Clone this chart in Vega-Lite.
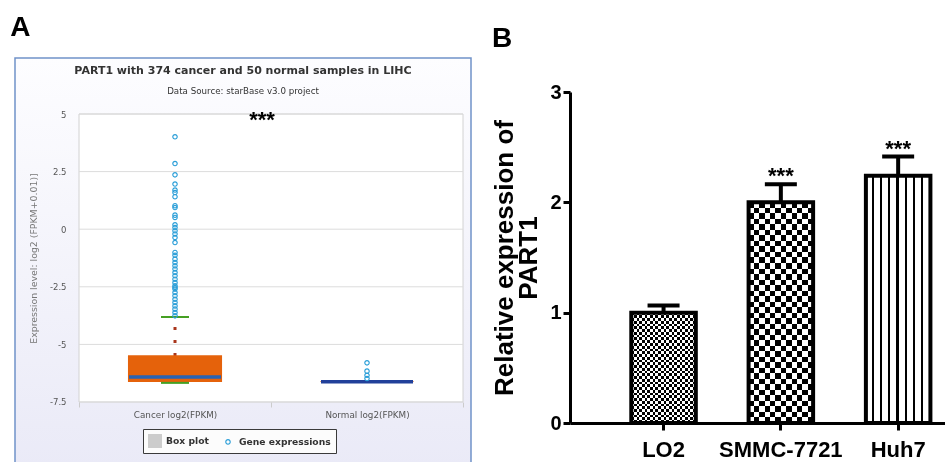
{
  "$schema": "https://vega.github.io/schema/vega-lite/v6.json",
  "background": "white",
  "padding": {"left": 10, "top": 14, "right": 0, "bottom": 0},
  "spacing": 19,
  "config": {"view": {"stroke": null}},
  "datasets": {
    "boxes": [
      {"group": "Cancer log2(FPKM)", "q1": -6.63, "q3": -5.47, "median": -6.41, "lower": -6.67, "upper": -3.81},
      {"group": "Normal log2(FPKM)", "q1": -6.63, "q3": -6.61, "median": -6.62, "lower": -6.62, "upper": -6.62}
    ],
    "outliers": [
      {"group": "Cancer log2(FPKM)", "value": 4.01},
      {"group": "Cancer log2(FPKM)", "value": 2.85},
      {"group": "Cancer log2(FPKM)", "value": 2.36},
      {"group": "Cancer log2(FPKM)", "value": 1.96},
      {"group": "Cancer log2(FPKM)", "value": 1.70},
      {"group": "Cancer log2(FPKM)", "value": 1.59},
      {"group": "Cancer log2(FPKM)", "value": 1.41},
      {"group": "Cancer log2(FPKM)", "value": 1.02},
      {"group": "Cancer log2(FPKM)", "value": 0.94},
      {"group": "Cancer log2(FPKM)", "value": 0.61},
      {"group": "Cancer log2(FPKM)", "value": 0.51},
      {"group": "Cancer log2(FPKM)", "value": 0.19},
      {"group": "Cancer log2(FPKM)", "value": 0.07},
      {"group": "Cancer log2(FPKM)", "value": -0.07},
      {"group": "Cancer log2(FPKM)", "value": -0.21},
      {"group": "Cancer log2(FPKM)", "value": -0.36},
      {"group": "Cancer log2(FPKM)", "value": -0.58},
      {"group": "Cancer log2(FPKM)", "value": -1.01},
      {"group": "Cancer log2(FPKM)", "value": -1.13},
      {"group": "Cancer log2(FPKM)", "value": -1.30},
      {"group": "Cancer log2(FPKM)", "value": -1.45},
      {"group": "Cancer log2(FPKM)", "value": -1.59},
      {"group": "Cancer log2(FPKM)", "value": -1.73},
      {"group": "Cancer log2(FPKM)", "value": -1.88},
      {"group": "Cancer log2(FPKM)", "value": -2.02},
      {"group": "Cancer log2(FPKM)", "value": -2.17},
      {"group": "Cancer log2(FPKM)", "value": -2.32},
      {"group": "Cancer log2(FPKM)", "value": -2.46},
      {"group": "Cancer log2(FPKM)", "value": -2.53},
      {"group": "Cancer log2(FPKM)", "value": -2.60},
      {"group": "Cancer log2(FPKM)", "value": -2.75},
      {"group": "Cancer log2(FPKM)", "value": -2.89},
      {"group": "Cancer log2(FPKM)", "value": -3.04},
      {"group": "Cancer log2(FPKM)", "value": -3.18},
      {"group": "Cancer log2(FPKM)", "value": -3.33},
      {"group": "Cancer log2(FPKM)", "value": -3.47},
      {"group": "Cancer log2(FPKM)", "value": -3.62},
      {"group": "Cancer log2(FPKM)", "value": -3.76},
      {"group": "Normal log2(FPKM)", "value": -5.80},
      {"group": "Normal log2(FPKM)", "value": -6.16},
      {"group": "Normal log2(FPKM)", "value": -6.34},
      {"group": "Normal log2(FPKM)", "value": -6.48}
    ],
    "grid": [{"v": 5}, {"v": 2.5}, {"v": 0}, {"v": -2.5}, {"v": -5}, {"v": -7.5}],
    "bars": [
      {"cell": "LO2", "mean": 1.0, "upper": 1.065, "sig": ""},
      {"cell": "SMMC-7721", "mean": 2.0, "upper": 2.165, "sig": "***"},
      {"cell": "Huh7", "mean": 2.24, "upper": 2.415, "sig": "***"}
    ]
  },
  "hconcat": [
    {
      "title": {"text": "A", "anchor": "start", "font": "Liberation Sans", "fontSize": 28, "fontWeight": "bold", "color": "black", "dx": -4, "offset": 15},
      "vconcat": [
        {
          "width": 456,
          "height": 410,
          "view": {
            "stroke": "#7092c9",
            "strokeWidth": 1.5,
            "fill": {"gradient": "linear", "x1": 0, "y1": 0, "x2": 0, "y2": 1, "stops": [{"offset": 0, "color": "#fdfdff"}, {"offset": 1, "color": "#eaeaf7"}]}
          },
          "title": {
            "text": "PART1 with 374 cancer and 50 normal samples in LIHC",
            "subtitle": "Data Source: starBase v3.0 project",
            "font": "DejaVu Sans", "fontSize": 11, "fontWeight": "bold", "color": "#333333",
            "subtitleFont": "DejaVu Sans", "subtitleFontSize": 8.7, "subtitleColor": "#333333", "subtitlePadding": 11,
            "anchor": "middle", "frame": "group", "offset": -38
          },
          "layer": [
            {
              "data": {"values": [{}]},
              "mark": {"type": "rect", "fill": "white", "stroke": "#d2d2d2", "strokeWidth": 1},
              "encoding": {
                "x": {
                  "datum": "Cancer log2(FPKM)", "bandPosition": 0,
                  "scale": {"type": "band", "domain": ["Cancer log2(FPKM)", "Normal log2(FPKM)"], "paddingInner": 0, "paddingOuter": 0.1875, "align": 0.889},
                  "axis": {"title": null, "labelFont": "DejaVu Sans", "labelFontSize": 8.8, "labelColor": "#555555", "labelAngle": 0, "domain": false, "ticks": true, "tickBand": "extent", "tickColor": "#cccccc", "tickSize": 5, "labelPadding": 3, "offset": -66, "grid": false}
                },
                "x2": {"datum": "Normal log2(FPKM)", "bandPosition": 1},
                "y": {
                  "datum": 5,
                  "type": "quantitative",
                  "scale": {"domain": [-10.3646, 7.4306], "nice": false, "zero": false},
                  "axis": {
                    "title": "Expression level: log2 (FPKM+0.01)]",
                    "values": [5, 2.5, 0, -2.5, -5, -7.5],
                    "labelExpr": "datum.value < 0 ? '-' + format(-datum.value, '~g') : format(datum.value, '~g')",
                    "domain": false, "ticks": false, "grid": false,
                    "labelFont": "DejaVu Sans", "labelFontSize": 8.5, "labelColor": "#555555", "labelPadding": 13,
                    "offset": -64,
                    "titleFont": "DejaVu Sans", "titleFontSize": 9.4, "titleFontWeight": "normal", "titleColor": "#777777",
                    "titleX": -41, "titleY": 200
                  }
                },
                "y2": {"datum": -7.5}
              }
            },
            {
              "data": {"name": "grid"},
              "mark": {"type": "rule", "color": "#dcdcdc", "strokeWidth": 1},
              "encoding": {
                "x": {"datum": "Cancer log2(FPKM)", "bandPosition": 0},
                "x2": {"datum": "Normal log2(FPKM)", "bandPosition": 1},
                "y": {"field": "v", "type": "quantitative"}
              }
            },
            {
              "data": {"name": "boxes"},
              "mark": {"type": "rule", "color": "#a9361c", "strokeWidth": 3, "strokeDash": [3, 10], "strokeDashOffset": 3},
              "encoding": {
                "x": {"field": "group", "type": "nominal"},
                "y": {"field": "upper", "type": "quantitative"},
                "y2": {"field": "lower"}
              }
            },
            {
              "data": {"name": "boxes"},
              "mark": {"type": "bar", "fill": "#e5620b", "width": {"band": 0.49}},
              "encoding": {
                "x": {"field": "group", "type": "nominal"},
                "y": {"field": "q3", "type": "quantitative"},
                "y2": {"field": "q1"}
              }
            },
            {
              "data": {"name": "boxes"},
              "mark": {"type": "tick", "color": "#45a023", "size": 28, "thickness": 2, "opacity": 1},
              "encoding": {
                "x": {"field": "group", "type": "nominal"},
                "y": {"field": "upper", "type": "quantitative"}
              }
            },
            {
              "data": {"name": "boxes"},
              "mark": {"type": "tick", "color": "#45a023", "size": 28, "thickness": 2, "opacity": 1},
              "encoding": {
                "x": {"field": "group", "type": "nominal"},
                "y": {"field": "lower", "type": "quantitative"}
              }
            },
            {
              "data": {"name": "boxes"},
              "mark": {"type": "tick", "size": 92, "thickness": 3.5, "opacity": 1},
              "encoding": {
                "x": {"field": "group", "type": "nominal"},
                "y": {"field": "median", "type": "quantitative"},
                "color": {"condition": {"test": "datum.group === 'Normal log2(FPKM)'", "value": "#22409a"}, "value": "#2a63b3"}
              }
            },
            {
              "data": {"name": "outliers"},
              "mark": {"type": "point", "filled": true, "strokeWidth": 0, "size": 196, "opacity": 1},
              "encoding": {
                "x": {"field": "group", "type": "nominal"},
                "y": {"field": "value", "type": "quantitative"},
                "color": {
                  "datum": "Gene expressions",
                  "scale": {"domain": ["Box plot", "Gene expressions"], "range": ["#cccccc", "#2c9fd8"]},
                  "legend": {
                    "title": null, "orient": "none", "legendX": 128, "legendY": 371, "direction": "horizontal",
                    "padding": 5, "labelFont": "DejaVu Sans", "labelFontSize": 9.2, "labelFontWeight": "bold", "labelColor": "#333333",
                    "labelOffset": 4, "columnPadding": 12, "symbolSize": 196, "symbolStrokeWidth": 0,
                    "strokeColor": "#3a3a3a", "fillColor": "#fcfcfc",
                    "encode": {"legend": {"strokeWidth": {"value": 2}}}
                  }
                },
                "shape": {
                  "datum": "Gene expressions",
                  "scale": {"domain": ["Box plot", "Gene expressions"], "range": ["square", "M0.4,0A0.4,0.4,0,1,1,-0.4,0A0.4,0.4,0,1,1,0.4,0ZM0.23,0A0.23,0.23,0,1,0,-0.23,0A0.23,0.23,0,1,0,0.23,0Z"]},
                  "legend": {
                    "title": null, "orient": "none", "legendX": 128, "legendY": 371, "direction": "horizontal",
                    "padding": 5, "labelFont": "DejaVu Sans", "labelFontSize": 9.2, "labelFontWeight": "bold", "labelColor": "#333333",
                    "labelOffset": 4, "columnPadding": 12, "symbolSize": 196, "symbolStrokeWidth": 0,
                    "strokeColor": "#3a3a3a", "fillColor": "#fcfcfc",
                    "encode": {"legend": {"strokeWidth": {"value": 2}}}
                  }
                }
              }
            },
            {
              "data": {"values": [{}]},
              "mark": {"type": "text", "text": "***", "font": "Liberation Sans", "fontSize": 22, "fontWeight": "bold", "color": "black", "baseline": "alphabetic", "align": "center"},
              "encoding": {
                "x": {"datum": "Cancer log2(FPKM)", "bandPosition": 0.953},
                "y": {"datum": 4.45, "type": "quantitative"}
              }
            }
          ]
        }
      ]
    },
    {
      "width": 377,
      "height": 365,
      "title": {"text": "B", "anchor": "start", "font": "Liberation Sans", "fontSize": 28, "fontWeight": "bold", "color": "black", "offset": 5},
      "data": {"name": "bars"},
      "encoding": {
        "x": {
          "field": "cell", "type": "nominal", "sort": ["LO2", "SMMC-7721", "Huh7"],
          "scale": {"type": "band", "paddingInner": 0.45, "paddingOuter": 0.332, "align": 0.787},
          "axis": {"title": null, "labelAngle": 0, "labelFont": "Liberation Sans", "labelFontSize": 22, "labelFontWeight": "bold", "labelColor": "black", "labelPadding": 9, "domainColor": "black", "domainWidth": 3, "tickColor": "black", "tickWidth": 3, "tickSize": 7, "grid": false}
        }
      },
      "layer": [
        {
          "transform": [{"filter": "datum.cell === 'LO2'"}],
          "mark": {"type": "bar", "fill": {"gradient": "linear", "x1": 0, "y1": 0, "x2": 1, "y2": 0, "stops": [
            {"offset": 0, "color": "#000"}, {"offset": 0.0417, "color": "#000"}, {"offset": 0.0417, "color": "#fff"}, {"offset": 0.0833, "color": "#fff"},
            {"offset": 0.0833, "color": "#000"}, {"offset": 0.125, "color": "#000"}, {"offset": 0.125, "color": "#fff"}, {"offset": 0.1667, "color": "#fff"},
            {"offset": 0.1667, "color": "#000"}, {"offset": 0.2083, "color": "#000"}, {"offset": 0.2083, "color": "#fff"}, {"offset": 0.25, "color": "#fff"},
            {"offset": 0.25, "color": "#000"}, {"offset": 0.2917, "color": "#000"}, {"offset": 0.2917, "color": "#fff"}, {"offset": 0.3333, "color": "#fff"},
            {"offset": 0.3333, "color": "#000"}, {"offset": 0.375, "color": "#000"}, {"offset": 0.375, "color": "#fff"}, {"offset": 0.4167, "color": "#fff"},
            {"offset": 0.4167, "color": "#000"}, {"offset": 0.4583, "color": "#000"}, {"offset": 0.4583, "color": "#fff"}, {"offset": 0.5, "color": "#fff"},
            {"offset": 0.5, "color": "#000"}, {"offset": 0.5417, "color": "#000"}, {"offset": 0.5417, "color": "#fff"}, {"offset": 0.5833, "color": "#fff"},
            {"offset": 0.5833, "color": "#000"}, {"offset": 0.625, "color": "#000"}, {"offset": 0.625, "color": "#fff"}, {"offset": 0.6667, "color": "#fff"},
            {"offset": 0.6667, "color": "#000"}, {"offset": 0.7083, "color": "#000"}, {"offset": 0.7083, "color": "#fff"}, {"offset": 0.75, "color": "#fff"},
            {"offset": 0.75, "color": "#000"}, {"offset": 0.7917, "color": "#000"}, {"offset": 0.7917, "color": "#fff"}, {"offset": 0.8333, "color": "#fff"},
            {"offset": 0.8333, "color": "#000"}, {"offset": 0.875, "color": "#000"}, {"offset": 0.875, "color": "#fff"}, {"offset": 0.9167, "color": "#fff"},
            {"offset": 0.9167, "color": "#000"}, {"offset": 0.9583, "color": "#000"}, {"offset": 0.9583, "color": "#fff"}, {"offset": 1, "color": "#fff"}
          ]}},
          "encoding": {
            "y": {
              "field": "mean", "type": "quantitative",
              "scale": {"domain": [0, 3], "nice": false, "range": [365, 34]},
              "axis": {
                "title": ["Relative expression of", "PART1"], "values": [0, 1, 2, 3], "format": "d",
                "titleFont": "Liberation Sans", "titleFontSize": 26, "titleFontWeight": "bold", "titleColor": "black", "titleLineHeight": 24, "titlePadding": 8,
                "labelFont": "Liberation Sans", "labelFontSize": 20, "labelFontWeight": "bold", "labelColor": "black", "labelPadding": 2,
                "domainColor": "black", "domainWidth": 3, "tickColor": "black", "tickWidth": 3, "tickSize": 7, "grid": false
              }
            }
          }
        },
        {
          "transform": [{"filter": "datum.cell === 'SMMC-7721'"}],
          "mark": {"type": "bar", "fill": {"gradient": "linear", "x1": 0, "y1": 0, "x2": 1, "y2": 0, "stops": [
            {"offset": 0, "color": "#000"}, {"offset": 0.0833, "color": "#000"}, {"offset": 0.0833, "color": "#fff"}, {"offset": 0.1667, "color": "#fff"},
            {"offset": 0.1667, "color": "#000"}, {"offset": 0.25, "color": "#000"}, {"offset": 0.25, "color": "#fff"}, {"offset": 0.3333, "color": "#fff"},
            {"offset": 0.3333, "color": "#000"}, {"offset": 0.4167, "color": "#000"}, {"offset": 0.4167, "color": "#fff"}, {"offset": 0.5, "color": "#fff"},
            {"offset": 0.5, "color": "#000"}, {"offset": 0.5833, "color": "#000"}, {"offset": 0.5833, "color": "#fff"}, {"offset": 0.6667, "color": "#fff"},
            {"offset": 0.6667, "color": "#000"}, {"offset": 0.75, "color": "#000"}, {"offset": 0.75, "color": "#fff"}, {"offset": 0.8333, "color": "#fff"},
            {"offset": 0.8333, "color": "#000"}, {"offset": 0.9167, "color": "#000"}, {"offset": 0.9167, "color": "#fff"}, {"offset": 1, "color": "#fff"}
          ]}},
          "encoding": {"y": {"field": "mean", "type": "quantitative"}}
        },
        {
          "transform": [{"filter": "datum.cell === 'Huh7'"}],
          "mark": {"type": "bar", "fill": {"gradient": "linear", "x1": 0, "y1": 0, "x2": 1, "y2": 0, "stops": [
            {"offset": 0, "color": "#fff"}, {"offset": 0.088, "color": "#fff"}, {"offset": 0.088, "color": "#000"}, {"offset": 0.12, "color": "#000"},
            {"offset": 0.12, "color": "#fff"}, {"offset": 0.216, "color": "#fff"}, {"offset": 0.216, "color": "#000"}, {"offset": 0.248, "color": "#000"},
            {"offset": 0.248, "color": "#fff"}, {"offset": 0.345, "color": "#fff"}, {"offset": 0.345, "color": "#000"}, {"offset": 0.377, "color": "#000"},
            {"offset": 0.377, "color": "#fff"}, {"offset": 0.474, "color": "#fff"}, {"offset": 0.474, "color": "#000"}, {"offset": 0.506, "color": "#000"},
            {"offset": 0.506, "color": "#fff"}, {"offset": 0.602, "color": "#fff"}, {"offset": 0.602, "color": "#000"}, {"offset": 0.634, "color": "#000"},
            {"offset": 0.634, "color": "#fff"}, {"offset": 0.73, "color": "#fff"}, {"offset": 0.73, "color": "#000"}, {"offset": 0.762, "color": "#000"},
            {"offset": 0.762, "color": "#fff"}, {"offset": 0.859, "color": "#fff"}, {"offset": 0.859, "color": "#000"}, {"offset": 0.891, "color": "#000"},
            {"offset": 0.891, "color": "#fff"}, {"offset": 1, "color": "#fff"}
          ]}},
          "encoding": {"y": {"field": "mean", "type": "quantitative"}}
        },
        {
          "transform": [{"filter": "datum.cell === 'LO2' || datum.cell === 'SMMC-7721'"}],
          "mark": {"type": "bar", "blend": "difference", "fill": {"gradient": "linear", "x1": 0, "y1": 0, "x2": 0, "y2": 1, "stops": [
            {"offset": 0, "color": "#000"}, {"offset": 0.025, "color": "#000"}, {"offset": 0.025, "color": "#fff"}, {"offset": 0.05, "color": "#fff"},
            {"offset": 0.05, "color": "#000"}, {"offset": 0.075, "color": "#000"}, {"offset": 0.075, "color": "#fff"}, {"offset": 0.1, "color": "#fff"},
            {"offset": 0.1, "color": "#000"}, {"offset": 0.125, "color": "#000"}, {"offset": 0.125, "color": "#fff"}, {"offset": 0.15, "color": "#fff"},
            {"offset": 0.15, "color": "#000"}, {"offset": 0.175, "color": "#000"}, {"offset": 0.175, "color": "#fff"}, {"offset": 0.2, "color": "#fff"},
            {"offset": 0.2, "color": "#000"}, {"offset": 0.225, "color": "#000"}, {"offset": 0.225, "color": "#fff"}, {"offset": 0.25, "color": "#fff"},
            {"offset": 0.25, "color": "#000"}, {"offset": 0.275, "color": "#000"}, {"offset": 0.275, "color": "#fff"}, {"offset": 0.3, "color": "#fff"},
            {"offset": 0.3, "color": "#000"}, {"offset": 0.325, "color": "#000"}, {"offset": 0.325, "color": "#fff"}, {"offset": 0.35, "color": "#fff"},
            {"offset": 0.35, "color": "#000"}, {"offset": 0.375, "color": "#000"}, {"offset": 0.375, "color": "#fff"}, {"offset": 0.4, "color": "#fff"},
            {"offset": 0.4, "color": "#000"}, {"offset": 0.425, "color": "#000"}, {"offset": 0.425, "color": "#fff"}, {"offset": 0.45, "color": "#fff"},
            {"offset": 0.45, "color": "#000"}, {"offset": 0.475, "color": "#000"}, {"offset": 0.475, "color": "#fff"}, {"offset": 0.5, "color": "#fff"},
            {"offset": 0.5, "color": "#000"}, {"offset": 0.525, "color": "#000"}, {"offset": 0.525, "color": "#fff"}, {"offset": 0.55, "color": "#fff"},
            {"offset": 0.55, "color": "#000"}, {"offset": 0.575, "color": "#000"}, {"offset": 0.575, "color": "#fff"}, {"offset": 0.6, "color": "#fff"},
            {"offset": 0.6, "color": "#000"}, {"offset": 0.625, "color": "#000"}, {"offset": 0.625, "color": "#fff"}, {"offset": 0.65, "color": "#fff"},
            {"offset": 0.65, "color": "#000"}, {"offset": 0.675, "color": "#000"}, {"offset": 0.675, "color": "#fff"}, {"offset": 0.7, "color": "#fff"},
            {"offset": 0.7, "color": "#000"}, {"offset": 0.725, "color": "#000"}, {"offset": 0.725, "color": "#fff"}, {"offset": 0.75, "color": "#fff"},
            {"offset": 0.75, "color": "#000"}, {"offset": 0.775, "color": "#000"}, {"offset": 0.775, "color": "#fff"}, {"offset": 0.8, "color": "#fff"},
            {"offset": 0.8, "color": "#000"}, {"offset": 0.825, "color": "#000"}, {"offset": 0.825, "color": "#fff"}, {"offset": 0.85, "color": "#fff"},
            {"offset": 0.85, "color": "#000"}, {"offset": 0.875, "color": "#000"}, {"offset": 0.875, "color": "#fff"}, {"offset": 0.9, "color": "#fff"},
            {"offset": 0.9, "color": "#000"}, {"offset": 0.925, "color": "#000"}, {"offset": 0.925, "color": "#fff"}, {"offset": 0.95, "color": "#fff"},
            {"offset": 0.95, "color": "#000"}, {"offset": 0.975, "color": "#000"}, {"offset": 0.975, "color": "#fff"}, {"offset": 1, "color": "#fff"}
          ]}},
          "encoding": {"y": {"field": "mean", "type": "quantitative"}}
        },
        {
          "mark": {"type": "bar", "fill": "transparent", "stroke": "black", "strokeWidth": 4},
          "encoding": {"y": {"field": "mean", "type": "quantitative"}}
        },
        {
          "mark": {"type": "rule", "color": "black", "strokeWidth": 4, "opacity": 1},
          "encoding": {"y": {"field": "mean", "type": "quantitative"}, "y2": {"field": "upper"}}
        },
        {
          "mark": {"type": "tick", "color": "black", "size": 32, "thickness": 4, "opacity": 1},
          "encoding": {"y": {"field": "upper", "type": "quantitative"}}
        },
        {
          "mark": {"type": "text", "font": "Liberation Sans", "fontSize": 22, "fontWeight": "bold", "color": "black", "baseline": "alphabetic", "dy": -1},
          "encoding": {"y": {"field": "upper", "type": "quantitative"}, "text": {"field": "sig"}}
        }
      ]
    }
  ]
}
